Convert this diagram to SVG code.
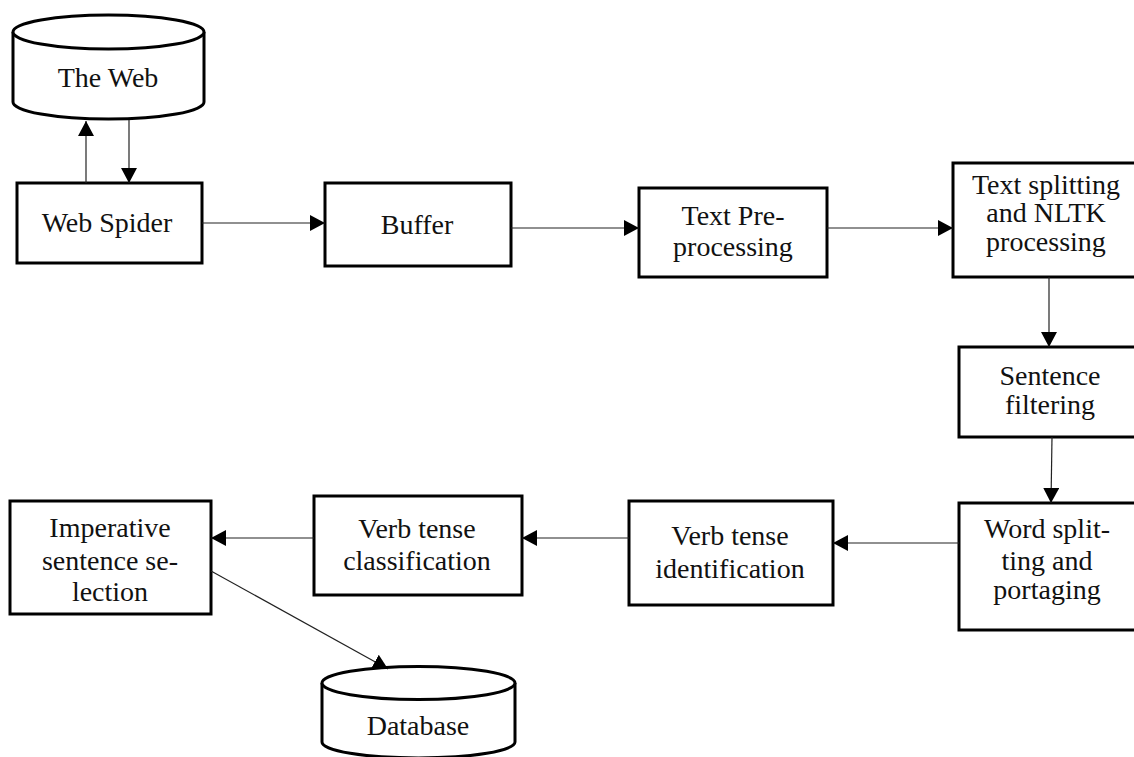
<svg xmlns="http://www.w3.org/2000/svg" width="1134" height="757" viewBox="0 0 1134 757">
<defs>
<marker id="arr" markerWidth="15" markerHeight="16" viewBox="0 0 15 16" refX="15" refY="8" orient="auto" markerUnits="userSpaceOnUse">
<path d="M0,0 L15,8 L0,16 Z" fill="#000"/>
</marker>
</defs>
<style>
.box{fill:#fff;stroke:#000;stroke-width:3}
.cyl{fill:#fff;stroke:#000;stroke-width:3}
.conn{fill:none;stroke:#222;stroke-width:1.2;marker-end:url(#arr)}
text{font-family:"Liberation Serif","Times New Roman",serif;font-size:28px;fill:#111;text-anchor:middle}
</style>
<rect width="1134" height="757" fill="#fff"/>

<g id="the-web">
<path class="cyl" d="M13,32 L13,102 A95.5,17 0 0 0 204,102 L204,32"/>
<ellipse class="cyl" cx="108.5" cy="32" rx="95.5" ry="17"/>
<text x="108" y="87">The Web</text>
</g>

<g id="web-spider">
<rect class="box" x="17" y="183" width="185" height="80"/>
<text x="107" y="232">Web Spider</text>
</g>

<g id="buffer">
<rect class="box" x="325" y="183" width="186" height="83"/>
<text x="417" y="234">Buffer</text>
</g>

<g id="text-preprocessing">
<rect class="box" x="639" y="188" width="188" height="89"/>
<text x="733" y="225">Text Pre-</text>
<text x="733" y="256">processing</text>
</g>

<g id="text-splitting">
<rect class="box" x="953" y="163" width="190" height="114"/>
<text x="1046" y="194">Text splitting</text>
<text x="1046" y="222">and NLTK</text>
<text x="1046" y="251">processing</text>
</g>

<g id="sentence-filtering">
<rect class="box" x="959" y="347" width="184" height="90"/>
<text x="1050" y="385">Sentence</text>
<text x="1050" y="414">filtering</text>
</g>

<g id="word-splitting">
<rect class="box" x="959" y="503" width="184" height="127"/>
<text x="1047" y="538">Word split-</text>
<text x="1047" y="570">ting and</text>
<text x="1047" y="599">portaging</text>
</g>

<g id="verb-tense-identification">
<rect class="box" x="629" y="501" width="204" height="104"/>
<text x="730" y="545">Verb tense</text>
<text x="730" y="578">identification</text>
</g>

<g id="verb-tense-classification">
<rect class="box" x="314" y="496" width="208" height="99"/>
<text x="417" y="538">Verb tense</text>
<text x="417" y="570">classification</text>
</g>

<g id="imperative-selection">
<rect class="box" x="10" y="501" width="201" height="113"/>
<text x="110" y="537">Imperative</text>
<text x="110" y="570">sentence se-</text>
<text x="110" y="601">lection</text>
</g>

<g id="database">
<path class="cyl" d="M322,683 L322,742 A96.5,16 0 0 0 515,742 L515,683"/>
<ellipse class="cyl" cx="418.5" cy="683" rx="96.5" ry="16.5"/>
<text x="418" y="735">Database</text>
</g>

<g id="connectors">
<line class="conn" x1="86" y1="183" x2="86" y2="121"/>
<line class="conn" x1="129" y1="120" x2="129" y2="183"/>
<line class="conn" x1="202" y1="223" x2="325" y2="223"/>
<line class="conn" x1="511" y1="228" x2="639" y2="228"/>
<line class="conn" x1="827" y1="228" x2="953" y2="228"/>
<line class="conn" x1="1049" y1="277" x2="1049" y2="347"/>
<line class="conn" x1="1052" y1="437" x2="1051" y2="503"/>
<line class="conn" x1="959" y1="543" x2="833" y2="543"/>
<line class="conn" x1="629" y1="538" x2="522" y2="538"/>
<line class="conn" x1="314" y1="538" x2="211" y2="538"/>
<line class="conn" x1="211" y1="571" x2="388" y2="669"/>
</g>
</svg>
